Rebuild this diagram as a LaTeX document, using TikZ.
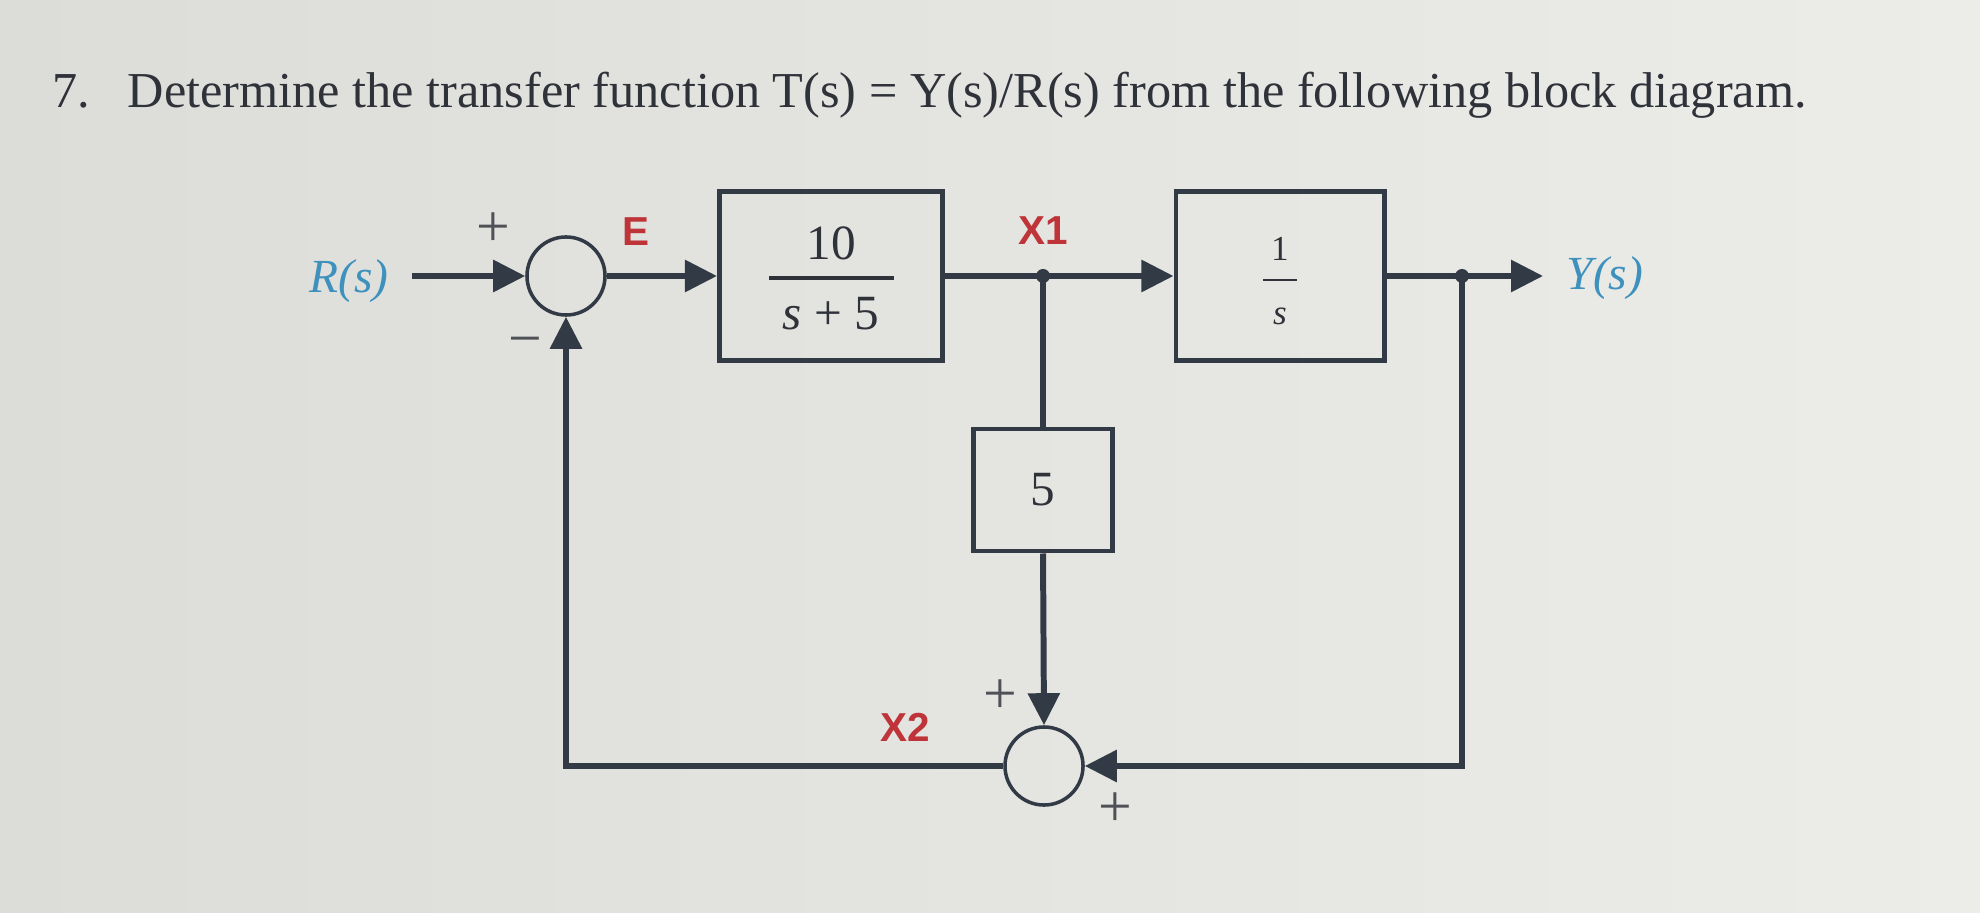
\documentclass[tikz,border=0pt]{standalone}
\usepackage{fontspec}
\setmainfont{Liberation Serif}
\newfontfamily\lblfont{Liberation Sans}
\usetikzlibrary{arrows.meta,positioning}
\definecolor{linecol}{RGB}{50,58,70}
\definecolor{txtcol}{RGB}{48,50,58}
\definecolor{sigred}{RGB}{190,52,56}
\definecolor{sigblue}{RGB}{62,145,188}
\definecolor{paperL}{RGB}{220,220,217}
\definecolor{paperR}{RGB}{236,236,233}
\tikzset{
	sig/.style = {line width = 1.7pt, draw = linecol},
	arr/.style = {sig, -{Triangle[length = 0.32cm, width = 0.31cm]}},
	blockbox/.style = {draw = linecol, line width = 1.4pt, inner sep = 0pt},
	sumnode/.style = {circle, draw = linecol, line width = 1pt, minimum size = 0.78cm, inner sep = 0pt},
	fractxt/.style = {anchor = base, inner sep = 0pt, text = txtcol, font = \fontsize{14}{16}\selectfont},
	fracbar/.style = {draw = txtcol, line width = 1pt},
	sgn/.style = {inner sep = 0pt, text = txtcol!85, font = \fontsize{17}{19}\selectfont},
	varlbl/.style = {inner sep = 0pt, text = sigred, font = \lblfont\bfseries\fontsize{11.5}{13}\selectfont},
	iolbl/.style = {inner sep = 0pt, text = sigblue, font = \itshape\fontsize{13.5}{16}\selectfont},
	branchdot/.style = {circle, fill = linecol, minimum size = 0.14cm, inner sep = 0pt}
}
\begin{document}
\begin{tikzpicture}[x = 0.01cm, y = -0.01cm]
	\shade[left color = paperL, right color = paperR] (0,0) rectangle (1980,913);
	\useasboundingbox (0,0) rectangle (1980,913);
	% question text
	\node[anchor = base west, inner sep = 0pt, text = txtcol, font = \fontsize{14.3}{17}\selectfont] (qnum) at (52,108) {7.};
	\node[anchor = base west, inner sep = 0pt, text = txtcol, font = \fontsize{14.3}{17}\selectfont] (qtext) at (127,108) {Determine the transfer function T(s) = Y(s)/R(s) from the following block diagram.};
	% blocks and summing points
	\node[sumnode] (sum1) at (566,276) {};
	\node[blockbox, minimum width = 2.23cm, minimum height = 1.69cm] (blk1) at (831,276) {};
	\node[blockbox, minimum width = 2.08cm, minimum height = 1.69cm] (blk2) at (1280,276) {};
	\node[blockbox, minimum width = 1.39cm, minimum height = 1.22cm, text = txtcol, font = \fontsize{14}{16}\selectfont] (blk5) at (1043,490) {5};
	\node[sumnode] (sum2) at (1044,766) {};
	\node[fractxt] (blk1num) at (831,260) {10};
	\node[fractxt] (blk1den) at (831,330) {\itshape s\/\upshape\ + 5};
	\draw[fracbar] (769,278) -- (894,278);
	\node[fractxt, font = \fontsize{10}{12}\selectfont] (blk2num) at (1280,261) {1};
	\node[fractxt, font = \itshape\fontsize{10}{12}\selectfont] (blk2den) at (1280,325) {s};
	\draw[fracbar, line width = 0.8pt] (1263,280) -- (1297,280);
	\coordinate (x1) at (1043,276);
	\coordinate (ybr) at (1462,276);
	\coordinate (yend) at (1543,276);
	\coordinate (rstart) at (412,276);
	% signals
	\draw[arr] (rstart) -- (sum1.west);
	\draw[arr] (sum1.east) -- (blk1.west);
	\draw[sig] (blk1.east) -- (x1);
	\draw[arr] (x1) -- (blk2.west);
	\draw[sig] (blk2.east) -- (ybr);
	\draw[arr] (ybr) -- (yend);
	\draw[sig] (x1) -- (blk5.north);
	\draw[arr] (blk5.south) -- (sum2.north);
	\draw[arr] (ybr) |- (sum2.east);
	\draw[arr] (sum2.west) -| (sum1.south);
	\node[branchdot] (x1dot) at (x1) {};
	\node[branchdot] (ydot) at (ybr) {};
	% labels
	\node[iolbl] (rlbl) at (349,281) {R(s)};
	\node[iolbl] (ylbl) at (1605,278) {Y(s)};
	\node[varlbl] (elbl) at (636,232) {E};
	\node[varlbl] (x1lbl) at (1043,231) {X1};
	\node[varlbl] (x2lbl) at (905,727) {X2};
	\node[sgn] (plus1) at (493,230) {+};
	\node[sgn] (minus1) at (525,348) {−};
	\node[sgn] (plus2) at (1000,697) {+};
	\node[sgn] (plus3) at (1115,810) {+};
\end{tikzpicture}
\end{document}
